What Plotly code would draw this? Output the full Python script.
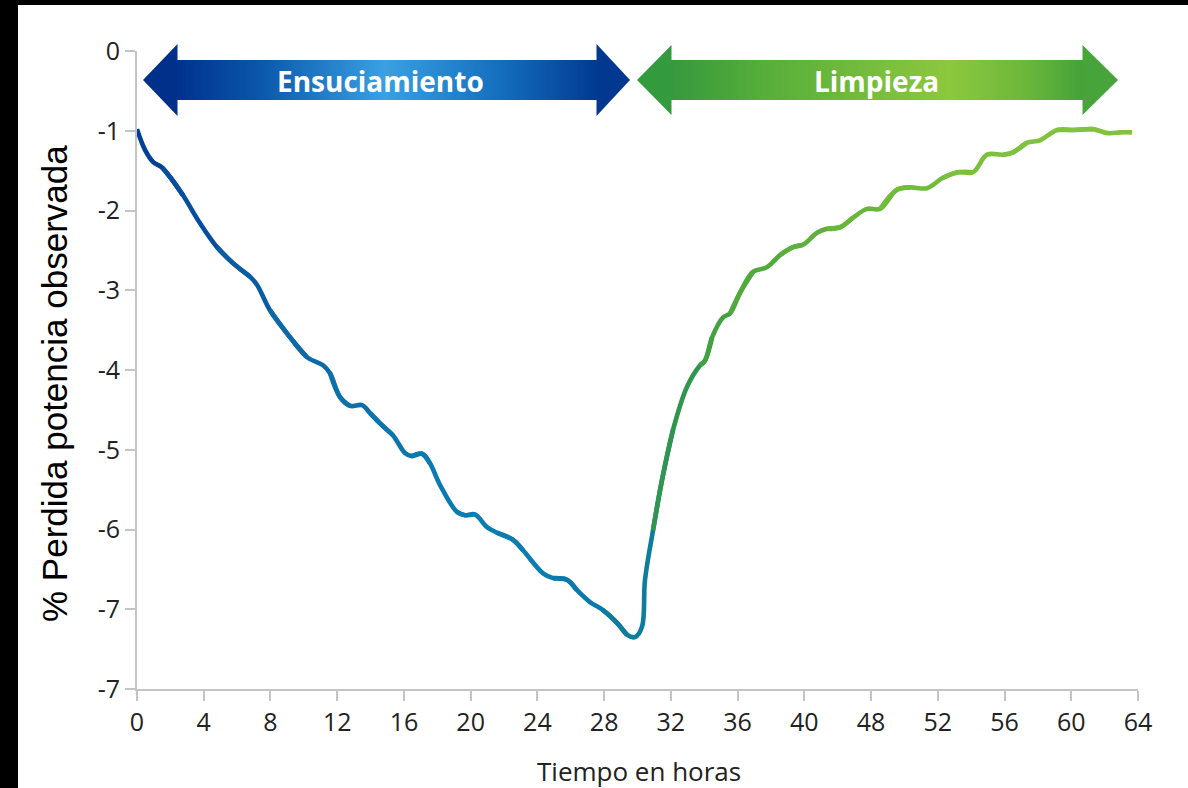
import plotly.graph_objects as go

# ---------------- data ----------------
hours = [0.0, 0.48, 0.96, 1.50, 1.98, 2.76, 3.78, 4.80, 5.75, 6.77, 7.19, 7.97, 8.99, 10.19,
         11.15, 11.57, 12.17, 12.77, 13.49, 13.97, 14.57, 15.35, 16.06, 16.48, 17.08, 17.56,
         18.16, 19.18, 19.66, 20.26, 20.98, 21.58, 22.54, 23.14, 24.34, 24.94, 25.77, 26.37,
         27.15, 27.93, 28.77, 29.37, 29.85, 30.27, 30.45, 30.93, 31.47, 32.13, 32.97, 33.75,
         34.05, 34.47, 35.13, 35.55, 36.15, 36.92, 37.76, 38.54, 39.32, 39.92, 40.76, 41.36,
         42.14, 42.92, 43.76, 44.54, 45.55, 46.34, 47.35, 48.31, 49.21, 50.11, 50.95, 51.91,
         52.51, 53.35, 54.13, 55.15, 56.10, 57.30, 58.20, 58.92, 59.64]
loss = [-0.98, -1.24, -1.39, -1.46, -1.58, -1.81, -2.16, -2.46, -2.66, -2.83, -2.93, -3.25,
        -3.54, -3.84, -3.94, -4.04, -4.34, -4.45, -4.44, -4.54, -4.67, -4.82, -5.04, -5.08,
        -5.05, -5.17, -5.44, -5.78, -5.82, -5.81, -5.97, -6.04, -6.13, -6.26, -6.55, -6.61,
        -6.63, -6.76, -6.91, -7.01, -7.17, -7.32, -7.35, -7.22, -6.63, -6.01, -5.38, -4.75,
        -4.21, -3.94, -3.88, -3.59, -3.34, -3.29, -3.03, -2.77, -2.71, -2.56, -2.46, -2.43,
        -2.28, -2.23, -2.21, -2.09, -1.98, -1.98, -1.74, -1.71, -1.72, -1.59, -1.52, -1.52,
        -1.30, -1.30, -1.27, -1.15, -1.12, -0.99, -0.99, -0.98, -1.03, -1.02, -1.02]

x_tickvals = [0, 4, 8, 12, 16, 20, 24, 28, 32, 36, 40, 44, 48, 52, 56, 60]
x_ticktext = ["0", "4", "8", "12", "16", "20", "24", "28", "32", "36", "40", "48", "52", "56", "60", "64"]
y_tickvals = [0, -1, -2, -3, -4, -5, -6, -7, -8]
y_ticktext = ["0", "-1", "-2", "-3", "-4", "-5", "-6", "-7", "-7"]

phase_labels = ["Ensuciamiento", "Limpieza"]
x_title = "Tiempo en horas"
y_title = "% Perdida potencia observada"

# ---------------- styling helpers ----------------
W, H = 1188, 788
L, R, T, B = 137, 50, 51, 99
PW, PH = W - L - R, H - T - B


def hex2rgb(h):
    h = h.lstrip("#")
    return tuple(int(h[i:i + 2], 16) for i in (0, 2, 4))


def interp_color(v, stops):
    if v <= stops[0][0]:
        return "rgb(%d,%d,%d)" % hex2rgb(stops[0][1])
    for (a, ca), (b, cb) in zip(stops[:-1], stops[1:]):
        if a <= v <= b:
            t = (v - a) / (b - a) if b > a else 0
            r1, g1, b1 = hex2rgb(ca)
            r2, g2, b2 = hex2rgb(cb)
            return "rgb(%d,%d,%d)" % (round(r1 + (r2 - r1) * t), round(g1 + (g2 - g1) * t),
                                      round(b1 + (b2 - b1) * t))
    return "rgb(%d,%d,%d)" % hex2rgb(stops[-1][1])


line_stops = [(0, "#003a92"), (5, "#0653a0"), (12, "#0c6ea9"), (20, "#0a7fb3"),
              (29.8, "#0a78aa"), (30.5, "#11808f"), (31.5, "#1f8a70"), (33, "#32964a"),
              (36, "#4aa63c"), (45, "#6cba3b"), (52, "#7ec13f"), (60, "#82c441")]


def px(xp):
    return (xp - L) / PW


def py(yp):
    return (H - B - yp) / PH


fig = go.Figure()

# gradient line: spline chunks, each extended by one point on either side for smooth joints
n = len(hours)
bounds = list(range(0, 41, 4)) + [46] + list(range(50, n - 1, 4)) + [n - 1]
bounds = sorted(set(bounds))
for s, e in zip(bounds[:-1], bounds[1:]):
    a = max(0, s - 1)
    b = min(n - 1, e + 1)
    xs = hours[a:b + 1]
    ys = loss[a:b + 1]
    c = interp_color(sum(hours[s:e + 1]) / (e - s + 1), line_stops)
    fig.add_trace(go.Scatter(x=xs, y=ys, mode="lines",
                             line=dict(color=c, width=4.6, shape="spline", smoothing=1.0),
                             hoverinfo="skip", showlegend=False))

shapes = []


def arrow(x_tip_l, x_base_l, x_base_r, x_tip_r, y_mid, head_top, head_bot, sh_top, sh_bot,
          stops, head_l, head_r):
    nstrip = int((x_base_r - x_base_l) / 3)
    w = (x_base_r - x_base_l) / nstrip
    for k in range(nstrip):
        x0 = x_base_l + k * w
        x1 = x0 + w + 0.8
        c = interp_color(x0 + w / 2, stops)
        shapes.append(dict(type="rect", xref="paper", yref="paper", x0=px(x0 - 0.4), x1=px(x1),
                           y0=py(sh_bot), y1=py(sh_top), fillcolor=c, line=dict(width=0),
                           layer="above"))
    pl = "M %f %f L %f %f L %f %f Z" % (px(x_tip_l), py(y_mid), px(x_base_l + 0.5), py(head_top),
                                        px(x_base_l + 0.5), py(head_bot))
    pr = "M %f %f L %f %f L %f %f Z" % (px(x_tip_r), py(y_mid), px(x_base_r - 0.5), py(head_top),
                                        px(x_base_r - 0.5), py(head_bot))
    shapes.append(dict(type="path", xref="paper", yref="paper", path=pl, fillcolor=head_l,
                       line=dict(width=0), layer="above"))
    shapes.append(dict(type="path", xref="paper", yref="paper", path=pr, fillcolor=head_r,
                       line=dict(width=0), layer="above"))


blue_stops = [(177, "#01328e"), (260, "#0a57ab"), (385, "#3aa0e2"), (500, "#146fbf"),
              (597, "#023a92")]
green_stops = [(671, "#36993e"), (760, "#55ad3a"), (950, "#8dc83e"), (1030, "#6ab63b"),
               (1083, "#44a23a")]
arrow(143, 177, 597, 630, 80, 44, 116, 60, 100, blue_stops, "#01308b", "#02388f")
arrow(637, 671, 1083, 1118, 80, 45, 115, 60, 100, green_stops, "#339a3e", "#46a43b")

# black frame edges of the picture
shapes.append(dict(type="rect", xref="paper", yref="paper", x0=px(-2), x1=px(18), y0=py(H + 2),
                   y1=py(-2), fillcolor="black", line=dict(width=0), layer="above"))
shapes.append(dict(type="rect", xref="paper", yref="paper", x0=px(-2), x1=px(W + 2), y0=py(5),
                   y1=py(-2), fillcolor="black", line=dict(width=0), layer="above"))

annotations = [
    dict(text="<b>%s</b>" % phase_labels[0], x=px(380), y=py(81), xref="paper", yref="paper",
         showarrow=False, font=dict(family="Open Sans", size=28, color="white"),
         xanchor="center", yanchor="middle"),
    dict(text="<b>%s</b>" % phase_labels[1], x=px(876), y=py(81), xref="paper", yref="paper",
         showarrow=False, font=dict(family="Open Sans", size=28, color="white"),
         xanchor="center", yanchor="middle"),
    dict(text=x_title, x=px(639), y=py(771), xref="paper", yref="paper", showarrow=False,
         font=dict(family="Open Sans", size=26, color="#222222"), xanchor="center",
         yanchor="middle"),
    dict(text=y_title, x=px(54), y=py(384), xref="paper", yref="paper", showarrow=False,
         textangle=-90, font=dict(family="Liberation Sans", size=35, color="#000000"),
         xanchor="center", yanchor="middle"),
]

axis_col = "#c4c4c4"
tick_font = dict(family="Open Sans", size=25, color="#222222")
fig.update_layout(
    width=W, height=H, autosize=False,
    margin=dict(l=L, r=R, t=T, b=B, pad=0),
    paper_bgcolor="white", plot_bgcolor="white",
    shapes=shapes, annotations=annotations, showlegend=False,
    xaxis=dict(range=[0, 60], tickvals=x_tickvals, ticktext=x_ticktext, ticks="outside",
               ticklen=10, tickwidth=2, tickcolor=axis_col, showline=True, linecolor=axis_col,
               linewidth=2, showgrid=False, zeroline=False, tickfont=tick_font),
    yaxis=dict(range=[-8, 0], tickvals=y_tickvals, ticktext=y_ticktext, ticks="outside",
               ticklen=10, tickwidth=2, tickcolor=axis_col, showline=True, linecolor=axis_col,
               linewidth=2, showgrid=False, zeroline=False, tickfont=tick_font),
)

fig.write_html("out.html", config={"displayModeBar": False},
               post_script="document.body.style.margin='0px';")
